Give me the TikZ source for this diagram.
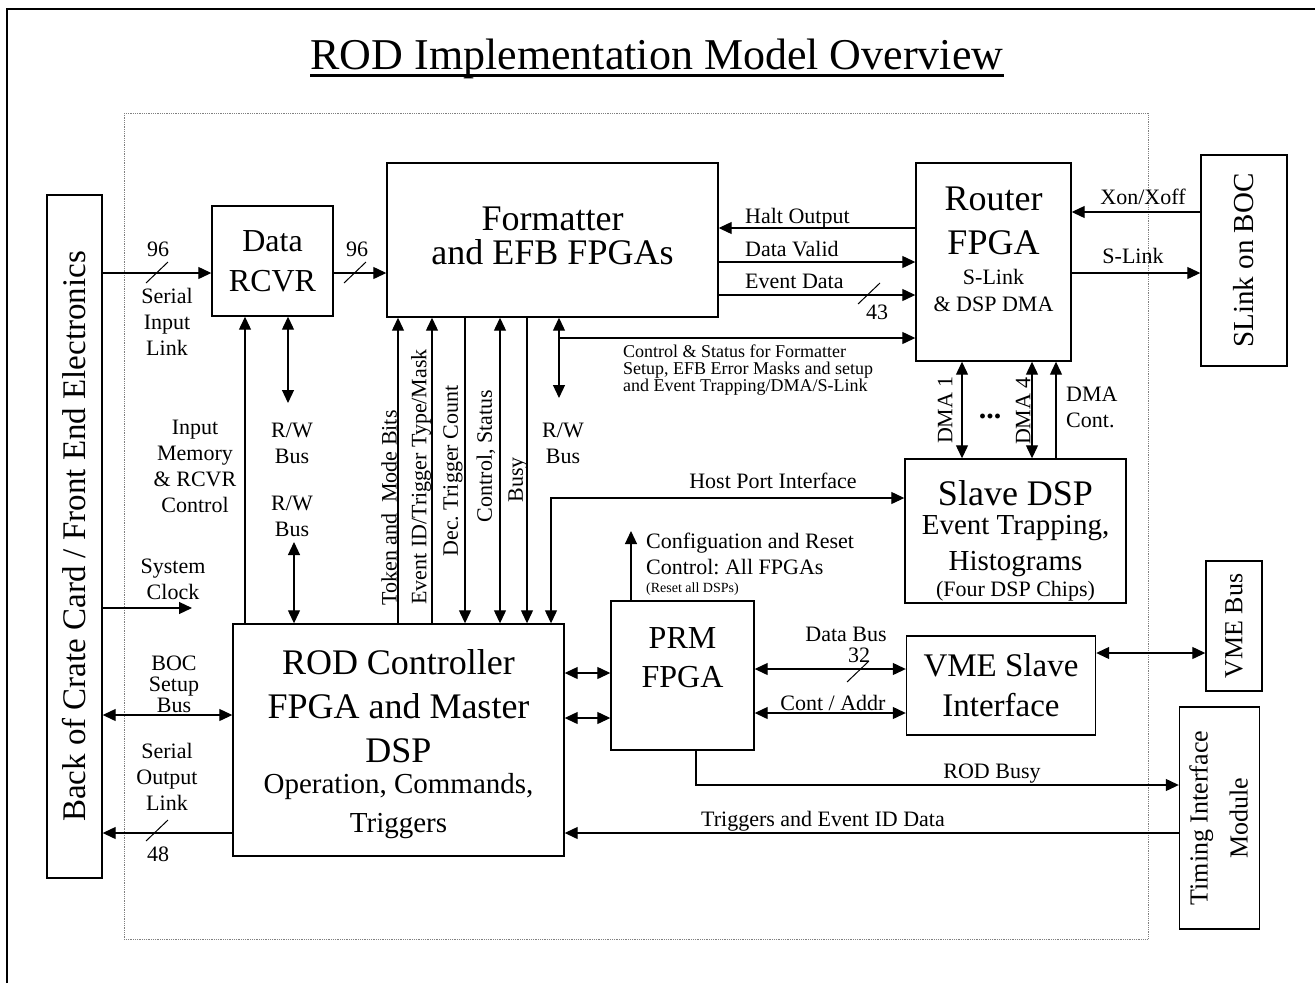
\documentclass[tikz,border=0pt]{standalone}
\usepackage{fontspec}
\setmainfont{Liberation Serif}
\usepackage{graphicx}
\usetikzlibrary{arrows.meta}
\frenchspacing

\newcommand{\titletxt}{\fontsize{44}{48}\selectfont}
\newcommand{\bigtxt}{\fontsize{36}{44}\selectfont}
\newcommand{\medtxt}{\fontsize{29}{33}\selectfont}
\newcommand{\lbltxt}{\fontsize{22}{26}\selectfont}
\newcommand{\smltxt}{\fontsize{18}{17}\selectfont}
\newcommand{\tinytxt}{\fontsize{14}{16}\selectfont}
% slash across a bus line
\newcommand{\busmark}[2]{\draw[tickln] (#1,#2) ++(-11,10) -- ++(22,-21);}

\tikzset{
  blk/.style={draw, line width=1.4pt, inner sep=0pt, align=center},
  lbl/.style={inner sep=0pt, align=center, font=\lbltxt},
  vlbl/.style={lbl, rotate=90},
  wire/.style={line width=1.2pt},
  arr/.style={wire, -{Triangle[length=13pt, width=12pt]}},
  darr/.style={wire, {Triangle[length=13pt, width=12pt]}-{Triangle[length=13pt, width=12pt]}},
  tickln/.style={line width=1pt},
}

\begin{document}
\begin{tikzpicture}[x=1pt,y=-1pt]
      \useasboundingbox (0,0) rectangle (1315,983);
      \draw[line width=2.5pt] (7,983) -- (7,9) -- (1315,9);
      \draw[gray, densely dotted, line width=0.8pt] (124,113) rectangle (1148,939);

      % title
      \node[inner sep=0pt, anchor=base, font=\titletxt] (title) at (657,69) {ROD Implementation Model Overview};
      \draw[line width=3pt] ([yshift=-6pt]title.base west) -- ([yshift=-6pt]title.base east);

      % blocks
      \node[blk, minimum width=55pt, minimum height=683pt, font=\fontsize{33}{36}\selectfont] (fe) at (74.5,536.5) {\rotatebox{90}{Back of Crate Card / Front End Electronics}};
      \node[blk, minimum width=121pt, minimum height=110pt, font=\fontsize{32}{40}\selectfont] (rcvr) at (272.5,261) {Data\\RCVR};
      \node[blk, minimum width=331pt, minimum height=154pt, font=\fontsize{36}{34}\selectfont] (fmt) at (552.5,240) {Formatter\\and EFB FPGAs\rule[-8pt]{0pt}{8pt}};
      \node[blk, minimum width=155pt, minimum height=198pt, font=\bigtxt] (router) at (993.5,262) {Router\\FPGA\\[-14pt]{\lbltxt S-Link}\\[-17pt]{\lbltxt \& DSP DMA}\rule[-26pt]{0pt}{26pt}};
      \node[blk, minimum width=86pt, minimum height=211pt, font=\fontsize{29}{32}\selectfont] (slink) at (1244,260.5) {\rotatebox{90}{SLink on BOC}};
      \node[blk, minimum width=221pt, minimum height=144pt, font=\bigtxt] (sdsp) at (1015.5,531) {\rule{0pt}{45pt}Slave DSP\\[-15pt]{\medtxt Event Trapping,}\\[-8pt]{\medtxt Histograms}\\[-18pt]{\lbltxt (Four DSP Chips)}};
      \node[blk, minimum width=56pt, minimum height=130pt, font=\fontsize{26}{30}\selectfont] (vmebus) at (1234,626) {\rotatebox{90}{VME Bus}};
      \node[blk, minimum width=189pt, minimum height=99pt, font=\fontsize{33}{40}\selectfont] (vmes) at (1001,685.5) {VME Slave\\Interface};
      \node[blk, minimum width=143pt, minimum height=149pt, font=\fontsize{32}{39}\selectfont] (prm) at (682.5,675.5) {PRM\\FPGA\rule[-36pt]{0pt}{36pt}};
      \node[blk, minimum width=331pt, minimum height=232pt, font=\bigtxt] (rod) at (398.5,740) {\rule{0pt}{33pt}ROD Controller\\FPGA and Master\\DSP\\[-13pt]{\medtxt Operation, Commands,}\\[-5pt]{\medtxt Triggers}};
      \node[blk, minimum width=77pt, minimum height=222pt, font=\fontsize{26}{40}\selectfont] (tim) at (1219.5,818) {\rotatebox{90}{\begin{tabular}{@{}c@{}}Timing Interface\\Module\end{tabular}}};

      % free ends
      \coordinate (rwa) at (288,403);
      \coordinate (rwb) at (294,542);
      \coordinate (rwc) at (559,398);
      \coordinate (clk) at (192,608);
      \coordinate (cfg) at (631,531);

      % left side
      \draw[arr] (fe.east |- 0,273) -- (rcvr.west |- 0,273);
      \busmark{157}{273}
      \node[lbl] (n96a) at (158,249) {96};
      \node[lbl] (serin) at (167,322) {Serial\\Input\\Link};
      \draw[arr] (rcvr.east |- 0,273) -- (fmt.west |- 0,273);
      \busmark{355}{273}
      \node[lbl] (n96b) at (357,249) {96};
      \draw[arr] (245,0 |- rod.north) -- (245,0 |- rcvr.south);
      \node[lbl] (inmem) at (195,466) {Input\\Memory\\\& RCVR\\Control};
      \draw[darr] (288,0 |- rcvr.south) -- (rwa);
      \node[lbl] (rwl1) at (292,443) {R/W\\Bus};
      \node[lbl] (rwl2) at (292,516) {R/W\\Bus};
      \draw[darr] (rwb) -- (294,0 |- rod.north);
      \draw[arr] (fe.east |- 0,608) -- (clk);
      \node[lbl] (sysclk) at (173,579) {System\\Clock};
      \draw[darr] (fe.east |- 0,715) -- (rod.west |- 0,715);
      \node[lbl, font=\fontsize{22}{21}\selectfont] (bocbus) at (174,684) {BOC\\Setup\\Bus};
      \draw[arr] (rod.west |- 0,833) -- (fe.east |- 0,833);
      \busmark{157}{831}
      \node[lbl] (serout) at (167,777) {Serial\\Output\\Link};
      \node[lbl] (n48) at (158,854) {48};

      % formatter <-> rod controller
      \draw[arr] (398,0 |- rod.north) -- (398,0 |- fmt.south);
      \draw[arr] (432,0 |- rod.north) -- (432,0 |- fmt.south);
      \draw[arr] (465,0 |- fmt.south) -- (465,0 |- rod.north);
      \draw[darr] (500,0 |- fmt.south) -- (500,0 |- rod.north);
      \draw[arr] (527,0 |- fmt.south) -- (527,0 |- rod.north);
      \draw[darr] (559,0 |- fmt.south) -- (rwc);
      \node[vlbl] (tok) at (389,508) {Token and\ \ Mode Bits};
      \node[vlbl] (evid) at (421,477) {Event ID/Trigger Type/Mask};
      \node[vlbl] (dec) at (453,471) {Dec. Trigger Count};
      \node[vlbl] (ctst) at (486,456) {Control, Status};
      \node[vlbl] (busy) at (518,480) {Busy};
      \node[lbl] (rwl3) at (563,443) {R/W\\Bus};

      % formatter -> router
      \draw[arr] (router.west |- 0,228) -- (fmt.east |- 0,228);
      \node[lbl, anchor=base west] (halt) at (745,223) {Halt Output};
      \draw[arr] (fmt.east |- 0,262) -- (router.west |- 0,262);
      \node[lbl, anchor=base west] (dval) at (745,256) {Data Valid};
      \draw[arr] (fmt.east |- 0,295) -- (router.west |- 0,295);
      \node[lbl, anchor=base west] (evdat) at (745,288) {Event Data};
      \busmark{869}{294}
      \node[lbl] (n43) at (877,312) {43};
      \draw[arr] (559,338) -- (router.west |- 0,338);
      \node[lbl, align=left, font=\smltxt, anchor=north west] (ctrl) at (623,345) {Control \& Status for Formatter\\Setup, EFB Error Masks and setup\\and Event Trapping/DMA/S-Link};

      % router <-> slink
      \draw[arr] (slink.west |- 0,212) -- (router.east |- 0,212);
      \node[lbl, anchor=base] (xon) at (1143,204) {Xon/Xoff};
      \draw[arr] (router.east |- 0,273) -- (slink.west |- 0,273);
      \node[lbl, anchor=base] (slk) at (1133,263) {S-Link};

      % router <-> slave dsp
      \draw[darr] (962,0 |- router.south) -- (962,0 |- sdsp.north);
      \draw[darr] (1032,0 |- router.south) -- (1032,0 |- sdsp.north);
      \draw[arr] (1056,0 |- sdsp.north) -- (1056,0 |- router.south);
      \node[vlbl] (dma1) at (945,410) {DMA 1};
      \node[vlbl] (dma4) at (1023,411) {DMA 4};
      \node[lbl, font=\fontsize{30}{30}\selectfont\bfseries] (dots) at (990,416) {...};
      \node[lbl, align=left, anchor=north west] (dmac) at (1066,387) {DMA\\Cont.};

      % host port
      \draw[darr] (551,0 |- rod.north) |- (sdsp.west |- 0,498);
      \node[lbl, anchor=base] (hpi) at (773,488) {Host Port Interface};

      % prm
      \draw[darr] (rod.east |- 0,673) -- (prm.west |- 0,673);
      \draw[darr] (rod.east |- 0,718) -- (prm.west |- 0,718);
      \draw[arr] (631,0 |- prm.north) -- (cfg);
      \node[lbl, align=left, anchor=north west] (cfgl) at (646,533) {Configuation and Reset\\Control: All FPGAs\\[-8pt]{\tinytxt (Reset all DSPs)}};
      \draw[darr] (prm.east |- 0,669) -- (vmes.west |- 0,669);
      \node[lbl, anchor=base] (dbus) at (846,641) {Data Bus};
      \busmark{858}{672}
      \node[lbl] (n32) at (859,655) {32};
      \draw[darr] (prm.east |- 0,713) -- (vmes.west |- 0,713);
      \node[lbl, anchor=base] (cadr) at (833,710) {Cont / Addr};
      \draw[darr] (vmes.east |- 0,653) -- (vmebus.west |- 0,653);

      % timing
      \draw[arr] (696,0 |- prm.south) |- (tim.west |- 0,785);
      \node[lbl, anchor=base] (rbusy) at (992,778) {ROD Busy};
      \draw[arr] (tim.west |- 0,833) -- (rod.east |- 0,833);
      \node[lbl, anchor=base] (trig) at (823,826) {Triggers and Event ID Data};
\end{tikzpicture}
\end{document}
